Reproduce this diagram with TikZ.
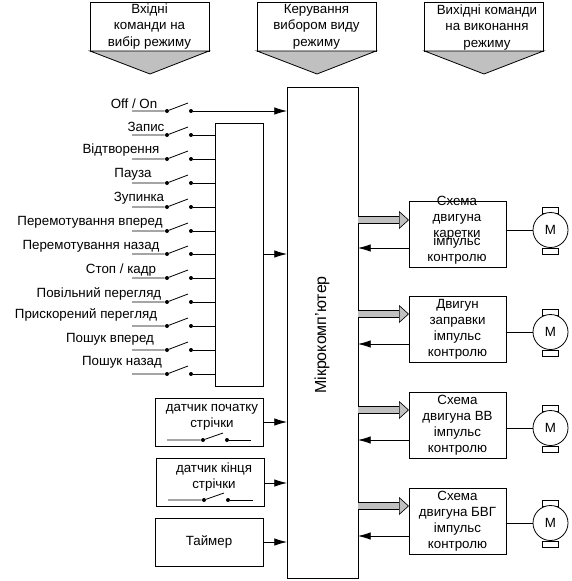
\documentclass[tikz,border=0pt]{standalone}
\usepackage{fontspec}
\setmainfont{Liberation Sans}
\usetikzlibrary{arrows.meta,calc}
\definecolor{sirij}{HTML}{C0C0C0}

\begin{document}
\begin{tikzpicture}[x=0.75pt,y=-0.75pt,font=\fontsize{10}{12}\selectfont]
\tikzset{
  ln/.style={black,line width=0.6pt},
  fl/.style={ln,-{Latex[length=9.5pt,width=5.6pt]}},
  fat/.style={line width=0.5pt,double=sirij,double distance=4.4pt,
    -{Triangle[length=7.5pt,width=13.5pt,fill=sirij,color=black,line width=0.5pt]}},
  box/.style={draw=black,line width=0.6pt,fill=white,inner sep=0pt,outer sep=0pt,align=center},
  hdr/.style={box,minimum width=89.25pt,minimum height=36.75pt,font=\fontsize{10}{12.4}\selectfont,
    execute at begin node={\rule{0pt}{9pt}}},
  hdrtip/.style={draw=black,line width=0.6pt,fill=sirij},
  sens/.style={box,minimum width=81pt,minimum height=36pt},
  dv/.style={box,minimum width=72.75pt,minimum height=49.5pt,
    execute at begin node={\rule{0pt}{10pt}}},
  motor/.style={draw=black,line width=0.6pt,fill=white,circle,inner sep=0pt,minimum size=26.25pt},
  shch/.style={draw=black,line width=0.6pt,fill=white,inner sep=0pt,minimum width=12pt,minimum height=4.5pt},
  cont/.style={circle,fill=black,inner sep=0pt,minimum size=3pt},
  txt/.style={align=center,inner sep=0pt}
}
\useasboundingbox (0,0) rectangle (571,581);
% shapki
\node[hdr] (h1) at (149.5,26.5) {Вхідні\\команди на\\вибір режиму};
\node[hdr] (h2) at (316.5,26.5) {Керування\\вибором виду\\режиму};
\node[hdr] (h3) at (484,26.5) {};
\node[txt,font=\fontsize{10}{12.4}\selectfont] (h3t) at (487,27.5) {Вихідні команди\\на виконання\\режиму};
\coordinate (p1) at (150,74);
\coordinate (p2) at (317,74);
\coordinate (p3) at (484,74);
\draw[hdrtip] (h1.south west) -- (p1) -- (h1.south east) -- cycle;
\draw[hdrtip] (h2.south west) -- (p2) -- (h2.south east) -- cycle;
\draw[hdrtip] (h3.south west) -- (p3) -- (h3.south east) -- cycle;
% mikrokomp'juter
\node[box,minimum width=53.25pt,minimum height=368.25pt] (mk) at (322.5,332.5) {};
\node[txt,rotate=90,font=\fontsize{12}{14}\selectfont] (mkt) at (322,335) {Мікрокомп'ютер};
\node[box,minimum width=36pt,minimum height=197.25pt] (blok) at (239,254.5) {};
% knopky
\node[txt] (t1) at (134,104) {Off / On};
\coordinate (s1) at (132,111); \node[cont] (a1) at (167,111) {}; \node[cont] (b1) at (191,111) {};
\draw[ln] (s1) -- (a1) -- ++(21,-8);
\draw[fl] (b1) -- (mk.west |- b1);
\node[txt] (t2) at (146,127) {Запис};
\coordinate (s2) at (132,135); \node[cont] (a2) at (167,135) {}; \node[cont] (b2) at (191,135) {};
\draw[ln] (s2) -- (a2) -- ++(21,-8);
\draw[ln] (b2) -- (blok.west |- b2);
\node[txt] (t3) at (121,150) {Відтворення};
\coordinate (s3) at (132,159); \node[cont] (a3) at (167,159) {}; \node[cont] (b3) at (191,159) {};
\draw[ln] (s3) -- (a3) -- ++(21,-8);
\draw[ln] (b3) -- (blok.west |- b3);
\node[txt] (t4) at (133,174) {Пауза};
\coordinate (s4) at (132,183); \node[cont] (a4) at (167,183) {}; \node[cont] (b4) at (191,183) {};
\draw[ln] (s4) -- (a4) -- ++(21,-8);
\draw[ln] (b4) -- (blok.west |- b4);
\node[txt] (t5) at (139,198) {Зупинка};
\coordinate (s5) at (132,207); \node[cont] (a5) at (167,207) {}; \node[cont] (b5) at (191,207) {};
\draw[ln] (s5) -- (a5) -- ++(21,-8);
\draw[ln] (b5) -- (blok.west |- b5);
\node[txt] (t6) at (90,222) {Перемотування вперед};
\coordinate (s6) at (132,231); \node[cont] (a6) at (167,231) {}; \node[cont] (b6) at (191,231) {};
\draw[ln] (s6) -- (a6) -- ++(21,-8);
\draw[ln] (b6) -- (blok.west |- b6);
\node[txt] (t7) at (91,246) {Перемотування назад};
\coordinate (s7) at (132,254); \node[cont] (a7) at (167,254) {}; \node[cont] (b7) at (191,254) {};
\draw[ln] (s7) -- (a7) -- ++(21,-8);
\draw[ln] (b7) -- (blok.west |- b7);
\node[txt] (t8) at (121,270) {Стоп / кадр};
\coordinate (s8) at (132,278); \node[cont] (a8) at (167,278) {}; \node[cont] (b8) at (191,278) {};
\draw[ln] (s8) -- (a8) -- ++(21,-8);
\draw[ln] (b8) -- (blok.west |- b8);
\node[txt] (t9) at (99,294) {Повільний перегляд};
\coordinate (s9) at (132,302); \node[cont] (a9) at (167,302) {}; \node[cont] (b9) at (191,302) {};
\draw[ln] (s9) -- (a9) -- ++(21,-8);
\draw[ln] (b9) -- (blok.west |- b9);
\node[txt] (t10) at (86,315) {Прискорений перегляд};
\coordinate (s10) at (132,326); \node[cont] (a10) at (167,326) {}; \node[cont] (b10) at (191,326) {};
\draw[ln] (s10) -- (a10) -- ++(21,-8);
\draw[ln] (b10) -- (blok.west |- b10);
\node[txt] (t11) at (110,339) {Пошук вперед};
\coordinate (s11) at (132,350); \node[cont] (a11) at (167,350) {}; \node[cont] (b11) at (191,350) {};
\draw[ln] (s11) -- (a11) -- ++(21,-8);
\draw[ln] (b11) -- (blok.west |- b11);
\node[txt] (t12) at (122,362) {Пошук назад};
\coordinate (s12) at (132,374); \node[cont] (a12) at (167,374) {}; \node[cont] (b12) at (191,374) {};
\draw[ln] (s12) -- (a12) -- ++(21,-8);
\draw[ln] (b12) -- (blok.west |- b12);
\draw[fl] (blok.east |- b7) -- (mk.west |- b7);
% datchyky
\node[sens] (d1) at (209,422) {};
\node[txt] (d1t) at (212,417.5) {датчик початку\\стрічки};
\coordinate (d1l) at (167,440); \node[cont] (d1a) at (203,440) {}; \node[cont] (d1b) at (227,440) {};
\coordinate (d1r) at (251,440);
\draw[ln] (d1l) -- (d1a) -- ++(20,-7);
\draw[ln] (d1b) -- (d1r);
\coordinate (d1v) at (263,422);
\draw[fl] (d1v) -- (mk.west |- d1v);
\node[sens] (d2) at (210.5,482) {};
\node[txt] (d2t) at (214,477.5) {датчик кінця\\стрічки};
\coordinate (d2l) at (168,500); \node[cont] (d2a) at (204,500) {}; \node[cont] (d2b) at (228,500) {};
\coordinate (d2r) at (253,500);
\draw[ln] (d2l) -- (d2a) -- ++(20,-7);
\draw[ln] (d2b) -- (d2r);
\coordinate (d2v) at (264,483);
\draw[fl] (d2v) -- (mk.west |- d2v);
\node[sens] (tm) at (209,542) {Таймер};
\draw[fl] (tm) -- (mk.west |- tm);
% dvyhuny
\node[shch] (m1a) at (550,210) {}; \node[shch] (m1b) at (550,251) {};
\node[shch] (m2a) at (550,312) {}; \node[shch] (m2b) at (550,353) {};
\node[shch] (m3a) at (550,408) {}; \node[shch] (m3b) at (550,449) {};
\node[shch] (m4a) at (550,503) {}; \node[shch] (m4b) at (550,544) {};
\node[motor] (m1) at (550.5,230) {M};
\node[motor] (m2) at (550.5,332) {M};
\node[motor] (m3) at (550.5,428) {M};
\node[motor] (m4) at (550.5,523) {M};
\node[dv] (c1) at (457.5,234) {};
\node[txt,fill=none] (c1t) at (457,218.5) {Схема\\двигуна\\каретки};
\node[txt] (c1i) at (457,250) {імпульс\\контролю};
\node[dv] (c2) at (457.5,329.5) {Двигун\\заправки\\імпульс\\контролю};
\node[dv] (c3) at (457.5,425) {Схема\\двигуна ВВ\\імпульс\\контролю};
\node[dv] (c4) at (457.5,521) {Схема\\двигуна БВГ\\імпульс\\контролю};
\draw[ln] (c1.east |- m1) -- (m1);
\draw[ln] (c2.east |- m2) -- (m2);
\draw[ln] (c3.east |- m3) -- (m3);
\draw[ln] (c4.east |- m4) -- (m4);
\coordinate (v1) at (409,220); \coordinate (z1) at (409,248);
\coordinate (v2) at (409,314); \coordinate (z2) at (409,344);
\coordinate (v3) at (409,410); \coordinate (z3) at (409,440);
\coordinate (v4) at (409,506); \coordinate (z4) at (409,536);
\draw[fat] (mk.east |- v1) -- (v1); \draw[fl] (z1) -- (mk.east |- z1);
\draw[fat] (mk.east |- v2) -- (v2); \draw[fl] (z2) -- (mk.east |- z2);
\draw[fat] (mk.east |- v3) -- (v3); \draw[fl] (z3) -- (mk.east |- z3);
\draw[fat] (mk.east |- v4) -- (v4); \draw[fl] (z4) -- (mk.east |- z4);
\end{tikzpicture}
\end{document}
